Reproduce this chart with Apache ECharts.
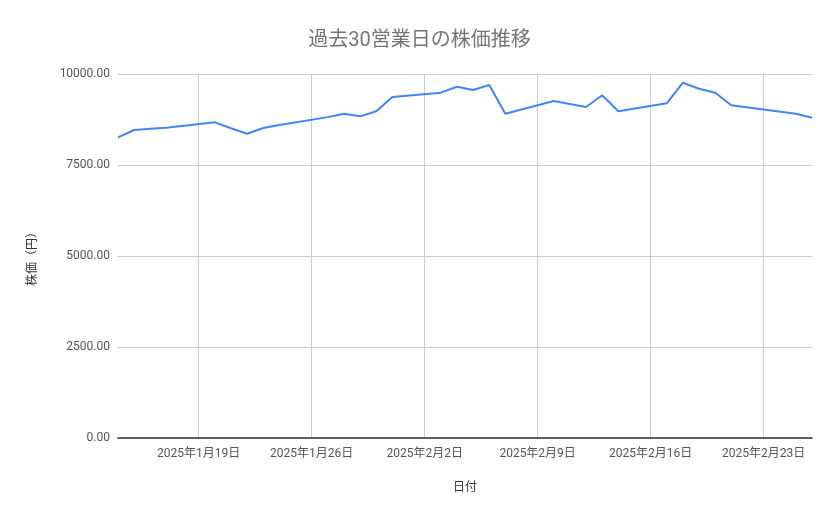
<!DOCTYPE html>
<html>
<head>
<meta charset="utf-8">
<script src="https://cdn.jsdelivr.net/npm/echarts@6/dist/echarts.min.js"></script>
<style>
html,body{margin:0;padding:0;background:#fff;}
#chart{width:839px;height:519px;}
</style>
</head>
<body>
<div id="chart"></div>
<script>
const dates = [
  '2025-01-14','2025-01-15','2025-01-16','2025-01-17',
  '2025-01-20','2025-01-21','2025-01-22','2025-01-23','2025-01-24',
  '2025-01-27','2025-01-28','2025-01-29','2025-01-30','2025-01-31',
  '2025-02-03','2025-02-04','2025-02-05','2025-02-06','2025-02-07',
  '2025-02-10','2025-02-12','2025-02-13','2025-02-14',
  '2025-02-17','2025-02-18','2025-02-19','2025-02-20','2025-02-21',
  '2025-02-25','2025-02-26'
];
const prices = [
  8261, 8462, 8495, 8525,
  8672, 8508, 8360, 8516, 8599,
  8815, 8909, 8837, 8975, 9368,
  9487, 9651, 9560, 9698, 8909,
  9258, 9093, 9415, 8975,
  9195, 9761, 9596, 9486, 9140,
  8909, 8800
];
const tickDates = ['2025-01-19','2025-01-26','2025-02-02','2025-02-09','2025-02-16','2025-02-23'];
const yTicks = [0, 2500, 5000, 7500, 10000];
const xStart = '2025-01-14';
const xEnd = '2025-02-26';

const toTs = s => { const p = s.split('-').map(Number); return new Date(p[0], p[1]-1, p[2]).getTime(); };
const font = 'Roboto, "Noto Sans CJK JP", sans-serif';

const chart = echarts.init(document.getElementById('chart'), null, {renderer: 'canvas'});
chart.setOption({
  animation: false,
  backgroundColor: '#ffffff',
  title: {
    text: '過去30営業日の株価推移',
    left: 'center',
    top: 26,
    textStyle: {fontFamily: font, fontSize: 20, fontWeight: 'normal', color: '#757575'}
  },
  grid: {left: 118, right: 27, top: 74, bottom: 81, containLabel: false},
  xAxis: {
    type: 'value',
    min: toTs(xStart),
    max: toTs(xEnd),
    name: '日付',
    nameLocation: 'middle',
    nameGap: 44,
    nameTextStyle: {fontFamily: font, fontSize: 12, color: '#333'},
    axisLine: {show: true, onZero: false, lineStyle: {color: '#333', width: 1.5}},
    axisTick: {show: false, customValues: tickDates.map(toTs)},
    axisLabel: {
      customValues: tickDates.map(toTs),
      fontFamily: font, fontSize: 12, color: '#555', margin: 10,
      formatter: v => { const d = new Date(v); return d.getFullYear() + '年' + (d.getMonth()+1) + '月' + d.getDate() + '日'; }
    },
    splitLine: {show: true, lineStyle: {color: '#cccccc', width: 1}}
  },
  yAxis: {
    type: 'value',
    min: yTicks[0],
    max: yTicks[yTicks.length-1],
    interval: yTicks[1] - yTicks[0],
    name: '株価（円）',
    nameLocation: 'middle',
    nameGap: 79,
    nameRotate: 90,
    nameTextStyle: {fontFamily: font, fontSize: 12, color: '#333'},
    axisLine: {show: false},
    axisTick: {show: false},
    axisLabel: {fontFamily: font, fontSize: 12, color: '#555', margin: 8, formatter: v => v.toFixed(2)},
    splitLine: {show: true, lineStyle: {color: '#cccccc', width: 1}}
  },
  series: [{
    type: 'line',
    data: dates.map((d, i) => [toTs(d), prices[i]]),
    showSymbol: false,
    symbol: 'none',
    lineStyle: {color: '#4285F4', width: 2},
    itemStyle: {color: '#4285F4'}
  }]
});
</script>
</body>
</html>
